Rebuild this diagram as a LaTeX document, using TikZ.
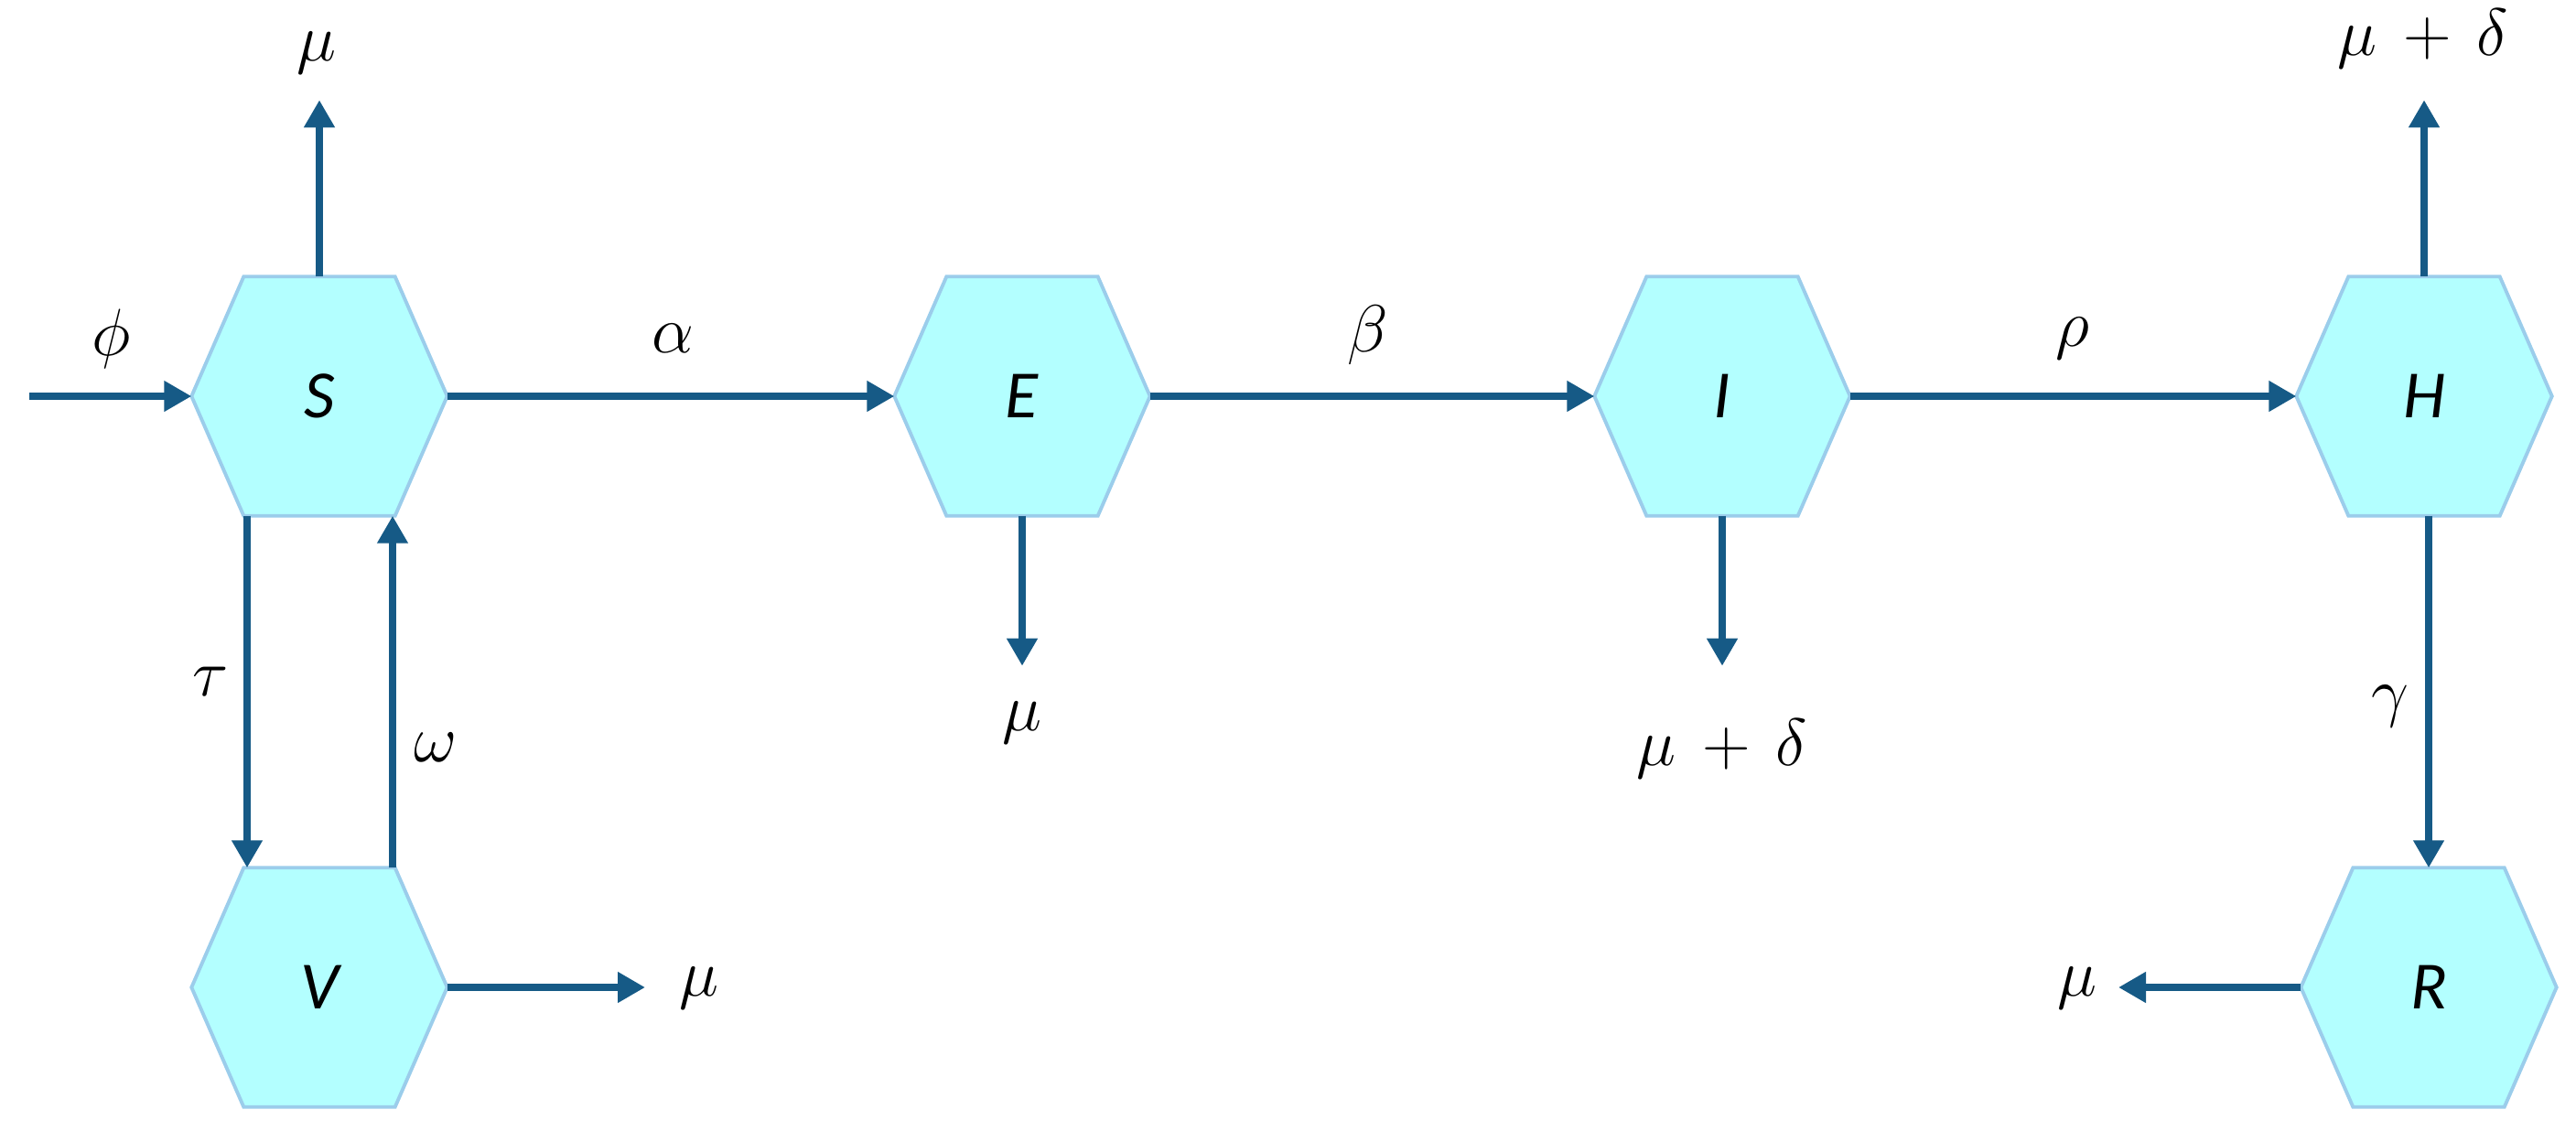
\documentclass[tikz,border=0pt]{standalone}
\usepackage{fontspec}
\newfontfamily\nodefont{Carlito}
\usetikzlibrary{arrows.meta,calc}
\pgfdeclarelayer{background}
\pgfsetlayers{background,main}
\definecolor{flowcol}{RGB}{22,90,134}
\definecolor{hexfill}{RGB}{179,255,255}
\definecolor{hexline}{RGB}{155,205,235}
\tikzset{
  hexbox/.style={minimum width=2.78cm, minimum height=2.6cm, inner sep=0pt, draw=none,
    font=\nodefont\itshape\fontsize{21}{25}\selectfont},
  hexshape/.style={fill=hexfill, draw=hexline, line width=1.1pt, line join=miter},
  flow/.style={draw=flowcol, line width=2.3pt, -{Triangle[width=0.32cm,length=0.3cm]}},
  lbl/.style={inner sep=1pt, font=\fontsize{20}{24}\selectfont},
}
\newcommand\hexat[1]{%
  \begin{pgfonlayer}{background}
    \path[hexshape] (#1.west) -- ([xshift=0.57cm]#1.north west) -- ([xshift=-0.57cm]#1.north east)
      -- (#1.east) -- ([xshift=-0.57cm]#1.south east) -- ([xshift=0.57cm]#1.south west) -- cycle;
  \end{pgfonlayer}}
\begin{document}
\begin{tikzpicture}
\useasboundingbox (0,0) rectangle (28.15,-12.47);
% compartments
\node[hexbox] (S) at (3.49,-4.33) {S}; \hexat{S}
\node[hexbox] (E) at (11.17,-4.33) {E}; \hexat{E}
\node[hexbox] (I) at (18.82,-4.33) {I}; \hexat{I}
\node[hexbox] (H) at (26.49,-4.33) {H}; \hexat{H}
\node[hexbox] (V) at (3.49,-10.79) {V}; \hexat{V}
\node[hexbox] (R) at (26.54,-10.79) {R}; \hexat{R}
% free ends
\coordinate (phiin) at (0.32,-4.33);
\coordinate (Sout) at ($(S.north)+(0,1.93)$);
\coordinate (Eout) at ($(E.south)+(0,-1.64)$);
\coordinate (Iout) at ($(I.south)+(0,-1.64)$);
\coordinate (Hout) at ($(H.north)+(0,1.93)$);
\coordinate (Vout) at (7.05,-10.79);
\coordinate (Rout) at (23.15,-10.79);
\coordinate (tauA) at ([xshift=-0.79cm]S.south);
\coordinate (tauB) at (tauA |- V.north);
\coordinate (omA) at ([xshift=0.80cm]V.north);
\coordinate (omB) at (omA |- S.south);
% connectors
\draw[flow] (phiin) -- (S.west);
\draw[flow] (S.north) -- (Sout);
\draw[flow] (S.east) -- (E.west);
\draw[flow] (E.south) -- (Eout);
\draw[flow] (E.east) -- (I.west);
\draw[flow] (I.south) -- (Iout);
\draw[flow] (I.east) -- (H.west);
\draw[flow] (H.north) -- (Hout);
\draw[flow] (H.south -| R.north) -- (R.north);
\draw[flow] (R.west) -- (Rout);
\draw[flow] (tauA) -- (tauB);
\draw[flow] (omA) -- (omB);
\draw[flow] (V.east) -- (Vout);
% labels
\node[lbl] (lphi) at (1.22,-3.70) {$\phi$};
\node[lbl] (lmuS) at (3.46,-0.58) {$\mu$};
\node[lbl] (lalpha) at (7.35,-3.70) {$\alpha$};
\node[lbl] (lbeta) at (14.95,-3.66) {$\beta$};
\node[lbl] (lrho) at (22.65,-3.70) {$\rho$};
\node[lbl] (lmuE) at (11.17,-7.90) {$\mu$};
\node[lbl] (lmuI) at (18.82,-8.18) {$\mu\,+\,\delta$};
\node[lbl] (lmuH) at (26.48,-0.42) {$\mu\,+\,\delta$};
\node[lbl] (lgamma) at (26.12,-7.72) {$\gamma$};
\node[lbl] (ltau) at (2.30,-7.45) {$\tau$};
\node[lbl] (lomega) at (4.76,-8.17) {$\omega$};
\node[lbl] (lmuV) at (7.64,-10.80) {$\mu$};
\node[lbl] (lmuR) at (22.70,-10.80) {$\mu$};
\end{tikzpicture}
\end{document}
